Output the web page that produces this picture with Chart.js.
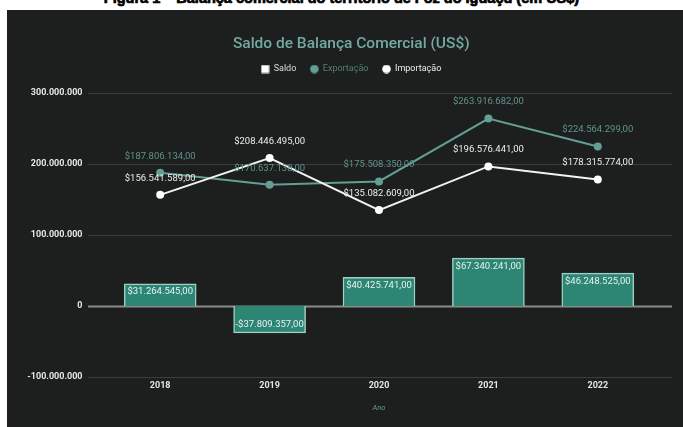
<!DOCTYPE html>
<html>
<head>
<meta charset="utf-8">
<script src="https://cdn.jsdelivr.net/npm/chart.js@4"></script>
<style>
  html, body { margin: 0; padding: 0; background: #ffffff; width: 683px; height: 427px; overflow: hidden; }
  #caption { position: absolute; left: 0; top: -10px; width: 683px; text-align: center; font: bold 14.5px "Liberation Sans", Arial, sans-serif; color: #000; white-space: nowrap; -webkit-text-stroke: 0.7px #000; }
  #panel { position: absolute; left: 7px; top: 10px; right: 0; bottom: 0; background: #1d1e1e; }
  #wrap { position: absolute; left: 0; top: 0; width: 683px; height: 427px; }
</style>
</head>
<body>
<div id="caption">Figura 1 – Balança comercial do território de Foz do Iguaçu (em US$)</div>
<div id="panel"></div>
<div id="wrap"><canvas id="c" width="683" height="427"></canvas></div>
<script>
const years = ['2018', '2019', '2020', '2021', '2022'];
const saldo = [31264545, -37809357, 40425741, 67340241, 46248525];
const exportacao = [187806134, 170637138, 175508350, 263916682, 224564299];
const importacao = [156541589, 208446495, 135082609, 196576441, 178315774];
const yTicks = [-100000000, 0, 100000000, 200000000, 300000000];

function groupDots(n) {
  const s = Math.abs(Math.round(n)).toString();
  return s.replace(/\B(?=(\d{3})+(?!\d))/g, '.');
}
function money(v) {
  return (v < 0 ? '-' : '') + '$' + groupDots(v) + ',00';
}
function axisNum(v) {
  return (v < 0 ? '-' : '') + groupDots(v);
}

const TEAL = '#629f95';
const FONT = 'Roboto, "Open Sans", sans-serif';

function legendIcon(shape, color) {
  const c = document.createElement('canvas');
  c.width = 9; c.height = 9;
  const g = c.getContext('2d');
  g.fillStyle = color;
  if (shape === 'rect') { g.fillRect(0.5, 0.5, 8, 8); }
  else { g.beginPath(); g.arc(4.5, 4.5, 4.3, 0, Math.PI * 2); g.fill(); }
  return c;
}
const legendIcons = [legendIcon('rect', '#ffffff'), legendIcon('circle', TEAL), legendIcon('circle', '#ffffff')];

const gridPlugin = {
  id: 'extGrid',
  beforeDatasetsDraw(chart) {
    const y = chart.scales.y, ctx = chart.ctx;
    ctx.save();
    yTicks.forEach(v => {
      const py = Math.round(y.getPixelForValue(v)) + 0.5;
      ctx.beginPath();
      ctx.strokeStyle = v === 0 ? '#8a8c8c' : '#3a3d3d';
      ctx.lineWidth = v === 0 ? 2 : 1;
      ctx.moveTo(88, py);
      ctx.lineTo(672, py);
      ctx.stroke();
    });
    ctx.restore();
  }
};

const legendGapPlugin = {
  id: 'legendGap',
  afterInit(chart) {
    const lg = chart.legend;
    if (!lg) return;
    const orig = lg.fit;
    lg.fit = function () { orig.call(this); this.height += 9.5; };
  }
};

const labelPlugin = {
  id: 'valLabels',
  afterDatasetsDraw(chart) {
    const ctx = chart.ctx;
    ctx.save();
    ctx.font = '9.5px ' + FONT;
    ctx.textAlign = 'center';
    ctx.textBaseline = 'middle';
    chart.data.datasets.forEach((ds, di) => {
      const meta = chart.getDatasetMeta(di);
      meta.data.forEach((el, i) => {
        const v = ds.data[i];
        let y;
        if (ds.type === 'bar') {
          y = v >= 0 ? el.y + 8 : el.y - 8;
        } else {
          y = el.y - 16.5;
        }
        ctx.fillStyle = ds.labelColor;
        ctx.fillText(money(v), el.x, y);
      });
    });
    ctx.restore();
  }
};

new Chart(document.getElementById('c'), {
  data: {
    labels: years,
    datasets: [
      {
        type: 'bar', label: 'Saldo', data: saldo,
        backgroundColor: '#2d8574', borderColor: '#9fd0c4', borderWidth: 1.5,
        barThickness: 72, order: 3, labelColor: '#e6f2ef'
      },
      {
        type: 'line', label: 'Exportação', data: exportacao,
        borderColor: TEAL, backgroundColor: TEAL, borderWidth: 2,
        pointRadius: 4, pointBackgroundColor: TEAL, pointBorderWidth: 0,
        order: 2, labelColor: '#5e958c'
      },
      {
        type: 'line', label: 'Importação', data: importacao,
        borderColor: '#f2f2f2', backgroundColor: '#f2f2f2', borderWidth: 2,
        pointRadius: 4, pointBackgroundColor: '#ffffff', pointBorderWidth: 0,
        order: 1, labelColor: '#ececec'
      }
    ]
  },
  options: {
    responsive: false,
    animation: false,
    layout: { padding: { left: 19.5, right: 0, top: 0, bottom: 10.5 } },
    plugins: {
      title: {
        display: true, text: 'Saldo de Balança Comercial (US$)',
        color: '#72aaa0', font: { family: FONT, size: 15.5, weight: '500' },
        padding: { top: 34.5, bottom: -2.6 }
      },
      legend: {
        display: true,
        labels: {
          font: { family: FONT, size: 9 },
          boxWidth: 8, boxHeight: 8, padding: 14,
          usePointStyle: true,
          generateLabels(chart) {
            const items = Chart.defaults.plugins.legend.labels.generateLabels(chart);
            items.sort((a, b) => a.datasetIndex - b.datasetIndex);
            const cols = ['#dcdcdc', '#4f8078', '#ececec'];
            items.forEach(it => {
              const i = it.datasetIndex;
              it.fontColor = cols[i];
              it.lineWidth = 0;
              it.pointStyle = legendIcons[i];
            });
            return items;
          }
        }
      },
      tooltip: { enabled: false }
    },
    scales: {
      x: {
        grid: { display: false, drawTicks: false }, border: { display: false },
        ticks: { color: '#e6e6e6', font: { family: FONT, size: 9, weight: 'bold' }, padding: 3 },
        title: { display: true, text: 'Ano', color: '#5f9d93', font: { family: FONT, size: 7.5, style: 'italic' }, padding: { top: 9.7, bottom: 4 } }
      },
      y: {
        min: -100000000, max: 300000000,
        afterBuildTicks(scale) { scale.ticks = yTicks.map(v => ({ value: v })); },
        afterFit(scale) { scale.width = 86; },
        grid: { display: false, drawTicks: false }, border: { display: false },
        ticks: { color: '#e6e6e6', font: { family: FONT, size: 9, weight: 'bold' }, padding: 23, callback: v => axisNum(v) }
      },
      y2: {
        position: 'right', display: true,
        afterFit(scale) { scale.width = 30.5; },
        grid: { display: false, drawTicks: false }, border: { display: false },
        ticks: { display: false }
      }
    }
  },
  plugins: [legendGapPlugin, gridPlugin, labelPlugin]
});
</script>
</body>
</html>
